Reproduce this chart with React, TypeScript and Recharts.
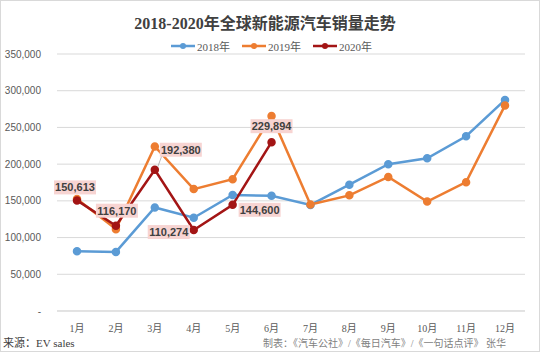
import React from 'react';
import { LineChart, Line, XAxis, YAxis, CartesianGrid, LabelList } from 'recharts';

const months = ['1月', '2月', '3月', '4月', '5月', '6月', '7月', '8月', '9月', '10月', '11月', '12月'];
const sales2018 = [81500, 80500, 141000, 127000, 158000, 157000, 144500, 172000, 200000, 208000, 238000, 287500];
const sales2019 = [152500, 111500, 224000, 166000, 179500, 265500, 145000, 157500, 182500, 149000, 175500, 280000];
const sales2020 = [150613, 116170, 192380, 110274, 144600, 229894];
const yTicks = [0, 50000, 100000, 150000, 200000, 250000, 300000, 350000];
const seriesNames = ['2018年', '2019年', '2020年'];

const C18 = '#5B9BD5';
const C19 = '#ED7D31';
const C20 = '#A31515';

const data = months.map((m, i) => ({
  month: m,
  s2018: sales2018[i],
  s2019: sales2019[i],
  s2020: i < sales2020.length ? sales2020[i] : undefined,
}));

// label offsets (styling only)
const labelOffsets: [number, number][] = [
  [-2, -13],
  [1, -15],
  [26, -20],
  [-25, 2],
  [27, 5],
  [0, -16],
];

const fmt = (v: number) => (v === 0 ? '-' : v.toLocaleString('en-US'));

const renderLabel = (props: any) => {
  const { x, y, value, index } = props;
  if (value == null) return null;
  const [dx, dy] = labelOffsets[index] || [0, -14];
  const cx = x + dx;
  const cy = y + dy;
  const w = 42;
  const h = 14;
  return (
    <g>
      {index === 2 && (
        <line x1={x + 3} y1={y - 3} x2={cx - w / 2 + 2} y2={cy + h / 2 - 1} stroke="#A6A6A6" strokeWidth={0.8} />
      )}
      <rect x={cx - w / 2} y={cy - h / 2} width={w} height={h} fill="#F7D4D2" />
      <text x={cx} y={cy + 4} textAnchor="middle" fontSize={11} fontWeight="bold" fill="#404040" fontFamily="'Liberation Sans', Arial, sans-serif">
        {fmt(value)}
      </text>
    </g>
  );
};

const LegendItem = ({ color, label }: { color: string; label: string }) => (
  <div style={{ display: 'flex', alignItems: 'center', marginRight: 12 }}>
    <svg width={24} height={10}>
      <line x1={0} y1={5} x2={24} y2={5} stroke={color} strokeWidth={2.5} />
      <circle cx={12} cy={5} r={3} fill={color} />
    </svg>
    <span style={{ marginLeft: 2, fontSize: 11, color: '#595959', fontFamily: "'Liberation Serif', 'Noto Sans CJK SC', serif" }}>{label}</span>
  </div>
);

export default function App() {
  return (
    <div
      style={{
        position: 'absolute',
        left: 0,
        top: 0,
        width: 540,
        height: 352,
        background: '#fff',
        border: '1px solid #D9D9D9',
        boxSizing: 'border-box',
        overflow: 'hidden',
      }}
    >
      <div
        style={{
          position: 'absolute',
          left: 0,
          top: 9,
          width: 528,
          textAlign: 'center',
          fontSize: 16,
          fontWeight: 'bold',
          color: '#404040',
          fontFamily: "'Liberation Serif', 'Noto Sans CJK SC', serif",
        }}
      >
        2018-2020年全球新能源汽车销量走势
      </div>
      <div style={{ position: 'absolute', left: 170, top: 37, display: 'flex' }}>
        <LegendItem color={C18} label={seriesNames[0]} />
        <LegendItem color={C19} label={seriesNames[1]} />
        <LegendItem color={C20} label={seriesNames[2]} />
      </div>
      <div style={{ position: 'absolute', left: -1, top: 0 }}>
        <LineChart width={540} height={352} data={data} margin={{ top: 53, right: 15, bottom: 12, left: 0 }}>
          <CartesianGrid vertical={false} stroke="#D9D9D9" strokeWidth={1} />
          <XAxis
            dataKey="month"
            axisLine={{ stroke: '#D9D9D9' }}
            tickLine={false}
            height={30}
            padding={{ left: 20, right: 20 }}
            tick={{ fontSize: 10, fill: '#595959', fontFamily: "'Liberation Serif', 'Noto Sans CJK SC', serif" }}
            tickMargin={8}
            interval={0}
          />
          <YAxis
            domain={[0, 350000]}
            ticks={yTicks}
            width={57}
            axisLine={false}
            tickLine={false}
            tickFormatter={fmt}
            tick={{ fontSize: 10, fill: '#595959', fontFamily: "'Liberation Sans', Arial, sans-serif" }}
            tickMargin={10}
          />
          <Line type="linear" dataKey="s2018" stroke={C18} strokeWidth={2.5} dot={{ r: 3, fill: C18, stroke: C18 }} isAnimationActive={false} />
          <Line type="linear" dataKey="s2019" stroke={C19} strokeWidth={2.5} dot={{ r: 3, fill: C19, stroke: C19 }} isAnimationActive={false} />
          <Line type="linear" dataKey="s2020" stroke={C20} strokeWidth={2.5} dot={{ r: 3, fill: C20, stroke: C20 }} isAnimationActive={false}>
            <LabelList dataKey="s2020" content={renderLabel} />
          </Line>
        </LineChart>
      </div>
      <div
        style={{
          position: 'absolute',
          left: 2,
          top: 333,
          fontSize: 11,
          color: '#404040',
          fontFamily: "'Liberation Serif', 'Noto Sans CJK SC', serif",
        }}
      >
        来源：EV sales
      </div>
      <div
        style={{
          position: 'absolute',
          right: 33,
          top: 334,
          fontSize: 10,
          color: '#7F7F7F',
          fontFamily: "'Liberation Serif', 'Noto Sans CJK SC', serif",
        }}
      >
        制表：《汽车公社》/《每日汽车》/《一句话点评》 张华
      </div>
    </div>
  );
}
